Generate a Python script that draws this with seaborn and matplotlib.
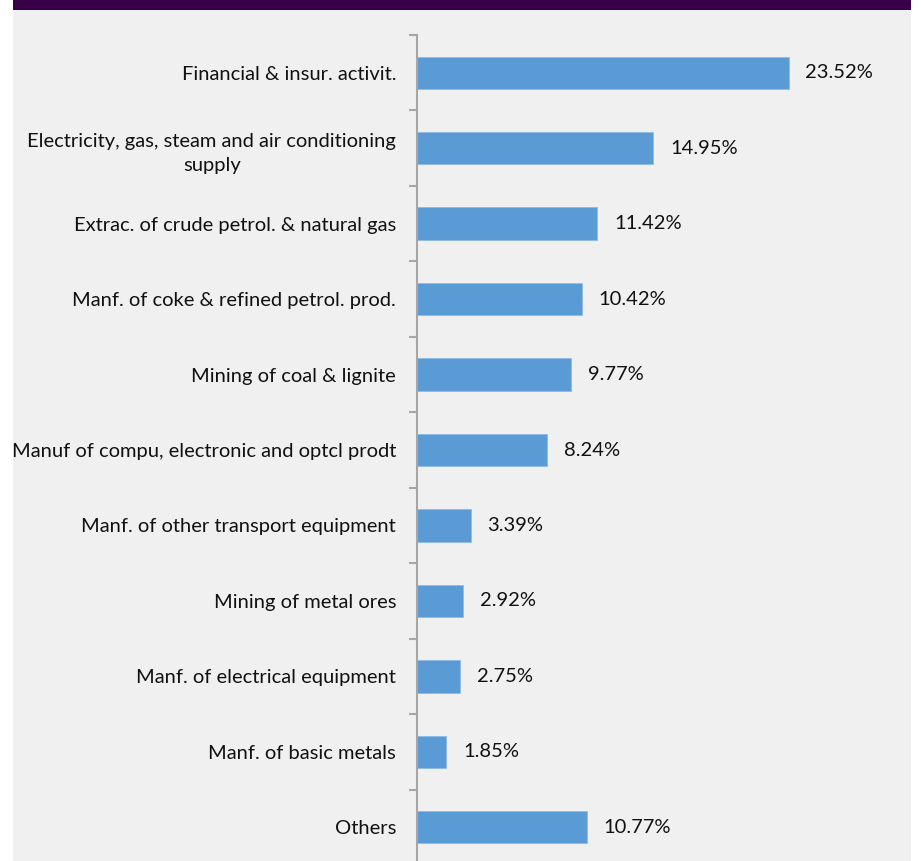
import matplotlib
matplotlib.use("Agg")
import matplotlib.pyplot as plt
from matplotlib.patches import Rectangle
from matplotlib.ticker import FixedLocator
import seaborn as sns
import pandas as pd

# Sector shares
sectors = [
    "Financial & insur. activit.",
    "Electricity, gas, steam and air conditioning\nsupply",
    "Extrac. of crude petrol. & natural gas",
    "Manf. of coke & refined petrol. prod.",
    "Mining of coal & lignite",
    "Manuf of compu, electronic and optcl prodt",
    "Manf. of other transport equipment",
    "Mining of metal ores",
    "Manf. of electrical equipment",
    "Manf. of basic metals",
    "Others",
]
shares = [23.52, 14.95, 11.42, 10.42, 9.77, 8.24, 3.39, 2.92, 2.75, 1.85, 10.77]
value_labels = ["23.52%", "14.95%", "11.42%", "10.42%", "9.77%", "8.24%",
                "3.39%", "2.92%", "2.75%", "1.85%", "10.77%"]

df = pd.DataFrame({"sector": sectors, "share": shares})

sns.set_style("white")
plt.rcParams["font.family"] = ["Lato", "DejaVu Sans"]

W, H = 921, 861
fig = plt.figure(figsize=(W / 100, H / 100), dpi=100, facecolor="white")

# panel background and header band
fig.patches.append(Rectangle((13 / W, 0), (911 - 13) / W, 1, transform=fig.transFigure,
                             facecolor="#f0f0f0", edgecolor="none", zorder=-2))
fig.patches.append(Rectangle((13 / W, 1 - 10 / H), (911 - 13) / W, 10 / H,
                             transform=fig.transFigure, facecolor="#380046",
                             edgecolor="none", zorder=-1))

left, right = 417 / W, 891 / W
top, bottom = 1 - 35 / H, 1 - 865 / H
ax = fig.add_axes([left, bottom, right - left, top - bottom])
ax.set_facecolor("none")

sns.barplot(data=df, x="share", y="sector", orient="h", color="#5b9bd5",
            saturation=1, width=0.43, edgecolor="#8fbbe4", linewidth=0.6, ax=ax)

ax.set_xlim(0, 30)
ax.set_ylim(len(sectors) - 0.5, -0.5)
ax.set_xlabel("")
ax.set_ylabel("")
ax.set_xticks([])

for s in ["top", "right", "bottom"]:
    ax.spines[s].set_visible(False)
ax.spines["left"].set_color("#a6a6a6")
ax.spines["left"].set_linewidth(1.5)

text_color = "#111111"
ax.tick_params(axis="y", which="major", left=False, length=0, pad=15,
               labelsize=14.5, labelcolor=text_color)
ax.yaxis.set_minor_locator(FixedLocator([i - 0.5 for i in range(len(sectors) + 1)]))
ax.tick_params(axis="y", which="minor", left=True, length=6, width=1.5,
               color="#a6a6a6", direction="out")
for lbl in ax.get_yticklabels():
    lbl.set_horizontalalignment("right")
    lbl.set_multialignment("center")
    lbl.set_linespacing(1.55)

for bar_container in ax.containers:
    ax.bar_label(bar_container, labels=value_labels, padding=12, fontsize=14.5,
                 color=text_color)

fig.savefig("out.png", dpi=100, facecolor="white")
